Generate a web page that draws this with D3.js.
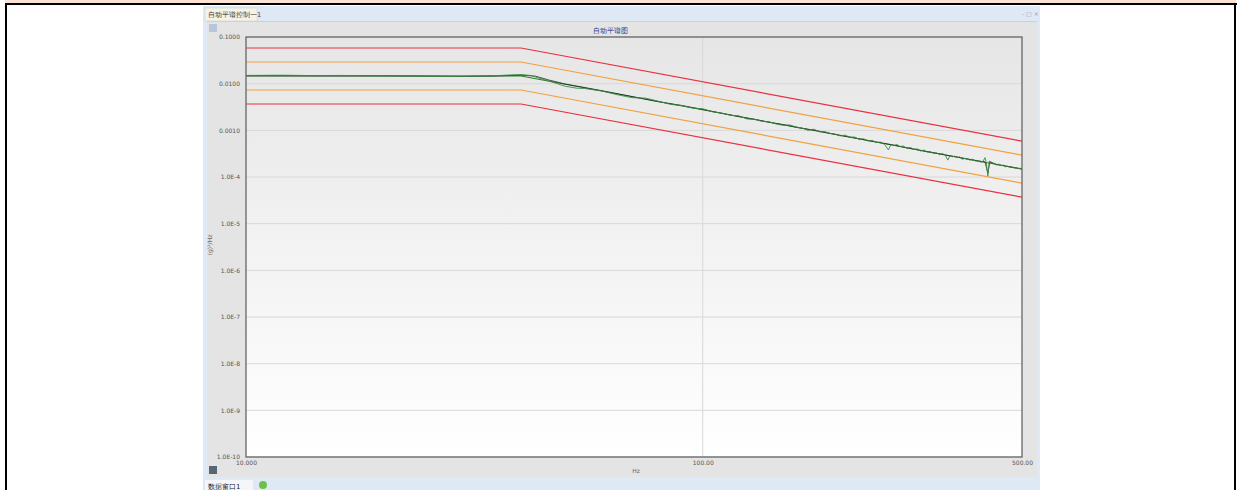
<!DOCTYPE html>
<html>
<head>
<meta charset="utf-8">
<script src="https://cdn.jsdelivr.net/npm/d3@7"></script>
<style>
body { margin: 0; background: #fff; }
svg text { font-family: "DejaVu Sans", sans-serif; }
</style>
</head>
<body>
<div id="chart"></div>
<script>
// reference profile and tolerance bands (g^2/Hz)
var refFreq = [10, 40, 500];
var refValue = [0.0146, 0.0146, 0.000147];
var up6 = [0.0581, 0.0581, 0.000585];
var up3 = [0.0291, 0.0291, 0.000293];
var low3 = [0.00732, 0.00732, 0.0000737];
var low6 = [0.00367, 0.00367, 0.0000369];

// measured spectrum (green)
var measFreq = [10, 12, 14, 16, 18, 20, 22, 25, 28, 30, 33, 36, 38, 40, 42, 45, 48, 50, 53, 55, 60, 65, 70, 75, 80, 85, 90, 95, 100,
  105, 110, 115, 120, 125, 130, 135, 140, 145, 150, 155, 160, 165, 170, 175, 180, 185, 190, 195, 200, 205, 210, 215, 220, 225,
  230, 235, 240, 245, 250, 255, 258, 262, 266, 270, 275, 280, 285, 290, 295, 300, 305, 310, 315, 320, 325, 330, 335, 340, 344,
  348, 352, 356, 360, 365, 370, 375, 380, 385, 390, 395, 400, 405, 410, 415, 418, 421, 424, 428, 432, 436, 440, 445, 450, 455,
  460, 465, 470, 475, 480, 485, 490, 495, 500];
var measValue = [0.0150, 0.0152, 0.0149, 0.0150, 0.0148, 0.0147, 0.0146, 0.0144, 0.0143, 0.0144, 0.0146, 0.0150, 0.0154, 0.0157,
  0.0150, 0.0122, 0.0100, 0.0088, 0.0080, 0.0079, 0.0070, 0.0058, 0.0050, 0.0049, 0.0042, 0.0036, 0.0034, 0.0030, 0.0029,
  0.0025, 0.00235, 0.0021, 0.00205, 0.00175, 0.00172, 0.00155, 0.00152, 0.00136, 0.00128, 0.00131, 0.00118, 0.00112, 0.00100,
  0.00106, 0.00093, 0.00094, 0.00086, 0.00083, 0.00076, 0.00079, 0.00071, 0.00072, 0.00064, 0.00066, 0.00059, 0.00061,
  0.00055, 0.00056, 0.00050, 0.00038, 0.00049, 0.00047, 0.00050, 0.00045, 0.00046, 0.00041, 0.00043, 0.00039, 0.00040,
  0.00036, 0.00038, 0.00034, 0.00035, 0.00032, 0.00033, 0.00030, 0.00032, 0.00029, 0.00023, 0.00029, 0.00027, 0.00028,
  0.00026, 0.00027, 0.00024, 0.00025, 0.00024, 0.00023, 0.00024, 0.00022, 0.00022, 0.00021, 0.00021, 0.00026, 0.00019,
  0.000105, 0.00022, 0.00021, 0.00020, 0.00019, 0.00018, 0.00019, 0.000175, 0.00018, 0.000165, 0.00017, 0.000162, 0.000165,
  0.000156, 0.000158, 0.000152, 0.000154, 0.00015];

// control spectrum (black)
var ctrlFreq = [10, 15, 20, 25, 30, 35, 40, 43, 46, 50, 55, 60, 70, 80, 90, 100, 110, 120, 130, 140, 150, 160, 175, 190, 200,
  220, 240, 260, 280, 300, 320, 340, 360, 380, 400, 415, 421, 425, 440, 460, 480, 500];
var ctrlValue = [0.0148, 0.0147, 0.0147, 0.0145, 0.0143, 0.0146, 0.0152, 0.0145, 0.0120, 0.0098, 0.0083, 0.0071, 0.0053,
  0.0041, 0.0034, 0.0028, 0.00232, 0.00196, 0.00172, 0.00148, 0.00133, 0.00116, 0.00101, 0.00086, 0.00078, 0.00066, 0.00056,
  0.00049, 0.00042, 0.00037, 0.00033, 0.000295, 0.000268, 0.000243, 0.000222, 0.00021, 0.00012, 0.00021, 0.000186, 0.000172,
  0.00016, 0.000149];

var yTicks = [0.1, 0.01, 0.001, 1e-4, 1e-5, 1e-6, 1e-7, 1e-8, 1e-9, 1e-10];
var yTickLabels = ["0.1000", "0.0100", "0.0010", "1.0E-4", "1.0E-5", "1.0E-6", "1.0E-7", "1.0E-8", "1.0E-9", "1.0E-10"];
var xTicks = [10, 100, 500];
var xTickLabels = ["10.000", "100.00", "500.00"];

var W = 1240, H = 490;
var mLeft = 246, mRight = 1022, mTop = 37, mBottom = 457;

var svg = d3.select("#chart").append("svg").attr("width", W).attr("height", H);

// page frame
svg.append("rect").attr("x", 0).attr("y", 0).attr("width", W).attr("height", H).attr("fill", "#fff");
svg.append("rect").attr("x", 5).attr("y", 0).attr("width", 1231).attr("height", 3).attr("fill", "#fce2d2");
svg.append("rect").attr("x", 5).attr("y", 3).attr("width", 1232).attr("height", 2).attr("fill", "#000");
svg.append("rect").attr("x", 5).attr("y", 3).attr("width", 2).attr("height", H).attr("fill", "#000");
svg.append("rect").attr("x", 1234).attr("y", 3).attr("width", 2).attr("height", H).attr("fill", "#000");

// application window
svg.append("rect").attr("x", 203).attr("y", 6).attr("width", 837).attr("height", 484).attr("fill", "#dfe8f5");
svg.append("rect").attr("x", 205).attr("y", 8).attr("width", 52).attr("height", 13).attr("fill", "#f7f3e4").attr("stroke", "#c9d3e3").attr("stroke-width", 0.6);
svg.append("text").attr("x", 208).attr("y", 17).attr("font-size", 6.5).attr("fill", "#333").text("自动平谱控制一1");
svg.append("text").attr("x", 1022).attr("y", 16).attr("font-size", 6).attr("fill", "#99a").text("- □ ×");
svg.append("rect").attr("x", 207).attr("y", 21).attr("width", 830).attr("height", 456).attr("fill", "#e4e4e4");
svg.append("rect").attr("x", 207).attr("y", 21).attr("width", 830).attr("height", 1).attr("fill", "#c8d2e0");
svg.append("rect").attr("x", 209).attr("y", 24).attr("width", 8).attr("height", 8).attr("fill", "#b8c6dc");
svg.append("text").attr("x", 610).attr("y", 33).attr("text-anchor", "middle").attr("font-size", 7).attr("fill", "#223388").text("自动平谱图");

// bottom strip
svg.append("rect").attr("x", 209).attr("y", 466).attr("width", 8).attr("height", 8).attr("fill", "#556677");
svg.append("rect").attr("x", 203).attr("y", 478).attr("width", 837).attr("height", 12).attr("fill", "#dfe8f5");
svg.append("rect").attr("x", 205).attr("y", 480).attr("width", 48).attr("height", 10).attr("fill", "#f4f6fa");
svg.append("text").attr("x", 208).attr("y", 489).attr("font-size", 7).attr("fill", "#222").text("数据窗口1");
svg.append("circle").attr("cx", 263).attr("cy", 485).attr("r", 4).attr("fill", "#6cc04a");

// scales
var x = d3.scaleLog().domain([10, 500]).range([mLeft, mRight]);
var y = d3.scaleLog().domain([1e-10, 0.1]).range([mBottom, mTop]);

// plot background gradient
var defs = svg.append("defs");
var grad = defs.append("linearGradient").attr("id", "bg").attr("x1", 0).attr("y1", 0).attr("x2", 0).attr("y2", 1);
grad.append("stop").attr("offset", "0%").attr("stop-color", "#e6e6e6");
grad.append("stop").attr("offset", "100%").attr("stop-color", "#ffffff");
svg.append("rect").attr("x", mLeft).attr("y", mTop).attr("width", mRight - mLeft).attr("height", mBottom - mTop).attr("fill", "url(#bg)");

// grid
svg.append("g").selectAll("line").data(yTicks).enter().append("line")
  .attr("x1", mLeft).attr("x2", mRight)
  .attr("y1", function (d) { return y(d); }).attr("y2", function (d) { return y(d); })
  .attr("stroke", "#d8d8d8").attr("stroke-width", 1);
svg.append("line").attr("x1", x(100)).attr("x2", x(100)).attr("y1", mTop).attr("y2", mBottom)
  .attr("stroke", "#d8d8d8").attr("stroke-width", 1);

// axes
var yAxis = d3.axisLeft(y).tickValues(yTicks).tickSize(0).tickPadding(6)
  .tickFormat(function (d, i) { return yTickLabels[i]; });
var gy = svg.append("g").attr("transform", "translate(" + mLeft + ",0)").call(yAxis);
gy.select(".domain").remove();
gy.selectAll("text").attr("font-size", 6).attr("fill", "#555");

var xAxis = d3.axisBottom(x).tickValues(xTicks).tickSize(0).tickPadding(4)
  .tickFormat(function (d, i) { return xTickLabels[i]; });
var gx = svg.append("g").attr("transform", "translate(0," + mBottom + ")").call(xAxis);
gx.select(".domain").remove();
gx.selectAll("text").attr("font-size", 6).attr("fill", "#555");

svg.append("text").attr("x", 636).attr("y", 473).attr("text-anchor", "middle").attr("font-size", 6).attr("fill", "#666").text("Hz");
svg.append("text").attr("transform", "translate(212,245) rotate(-90)").attr("text-anchor", "middle")
  .attr("font-size", 6).attr("fill", "#666").text("(g)²/Hz");

// lines
var line = d3.line()
  .x(function (d) { return x(d[0]); })
  .y(function (d) { return y(d[1]); });

function pairs(fs, vs) {
  return fs.map(function (f, i) { return [f, vs[i]]; });
}

var series = [
  { v: up6, c: "#ea3040" },
  { v: up3, c: "#f2a040" },
  { v: low3, c: "#f2a040" },
  { v: low6, c: "#ea3040" }
];
svg.append("g").selectAll("path").data(series).enter().append("path")
  .attr("d", function (s) { return line(pairs(refFreq, s.v)); })
  .attr("fill", "none").attr("stroke", function (s) { return s.c; }).attr("stroke-width", 1.2);

svg.append("path").attr("d", line(pairs(refFreq, refValue)))
  .attr("fill", "none").attr("stroke", "#2e7a2e").attr("stroke-width", 1);
svg.append("path").attr("d", line(pairs(ctrlFreq, ctrlValue)))
  .attr("fill", "none").attr("stroke", "#1a2a1a").attr("stroke-width", 0.8);
svg.append("path").attr("d", line(pairs(measFreq, measValue)))
  .attr("fill", "none").attr("stroke", "#3d8a45").attr("stroke-width", 0.9);

// plot frame
svg.append("rect").attr("x", mLeft).attr("y", mTop).attr("width", mRight - mLeft).attr("height", mBottom - mTop)
  .attr("fill", "none").attr("stroke", "#666").attr("stroke-width", 1.3);
</script>
</body>
</html>
